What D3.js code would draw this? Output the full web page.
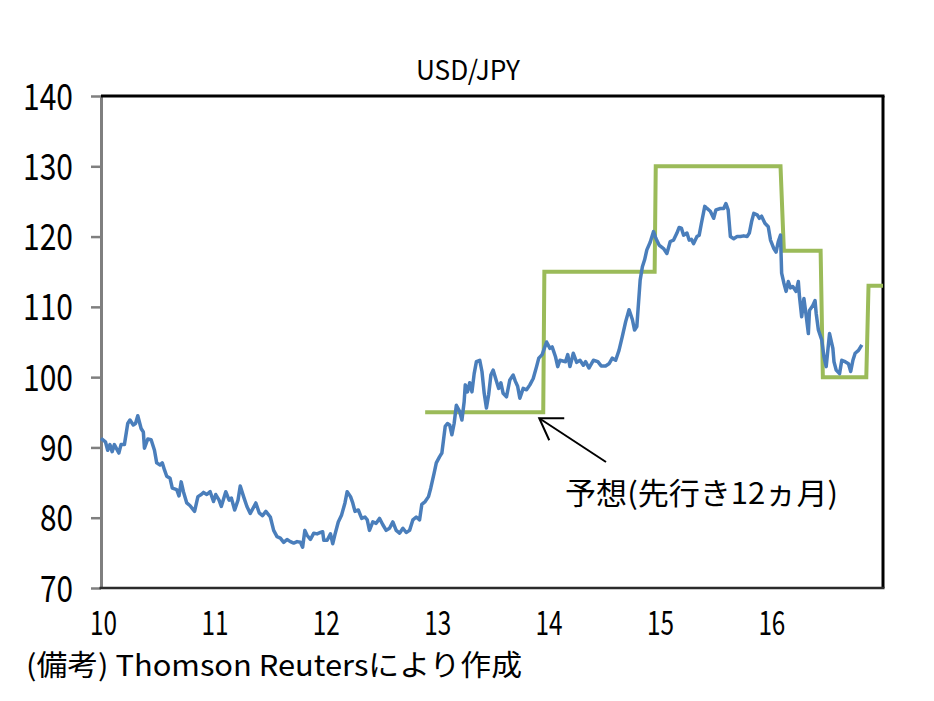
<!DOCTYPE html>
<html><head><meta charset="utf-8">
<script src="https://cdn.jsdelivr.net/npm/d3@7"></script>
<style>
html,body{margin:0;padding:0;background:#fff;}
svg{display:block;}
text{font-family:"Noto Sans CJK JP","Noto Sans",sans-serif;fill:#000;}
</style></head>
<body>
<div id="chart"></div>
<script>
// ---- data ----
const title = "USD/JPY";
const yTicks = [70, 80, 90, 100, 110, 120, 130, 140];
const xTickYears = [10, 11, 12, 13, 14, 15, 16];
const xTickLabels = ["10", "11", "12", "13", "14", "15", "16"];
const annotationText = "予想(先行き12ヵ月)";
const sourceText = "(備考) Thomson Reutersにより作成";

// actual USD/JPY (x = year, 10 = 2010)
const actualYears = [10.00,10.04,10.06,10.08,10.10,10.12,10.16,10.18,10.21,10.24,10.26,10.29,10.31,10.33,10.36,10.38,10.39,10.42,10.45,10.48,10.50,10.53,10.55,10.57,10.59,10.62,10.64,10.68,10.70,10.72,10.74,10.77,10.80,10.84,10.87,10.90,10.92,10.95,10.98,11.01,11.03,11.06,11.08,11.12,11.15,11.17,11.20,11.23,11.25,11.28,11.31,11.34,11.39,11.42,11.45,11.48,11.52,11.55,11.58,11.61,11.64,11.67,11.70,11.73,11.76,11.79,11.81,11.83,11.85,11.88,11.91,11.94,11.97,11.99,12.00,12.03,12.06,12.08,12.10,12.13,12.16,12.19,12.21,12.24,12.26,12.28,12.31,12.34,12.37,12.39,12.41,12.44,12.47,12.50,12.53,12.56,12.59,12.62,12.65,12.68,12.71,12.74,12.77,12.80,12.83,12.86,12.88,12.91,12.94,12.96,12.99,13.01,13.04,13.06,13.09,13.11,13.13,13.15,13.17,13.19,13.22,13.24,13.26,13.27,13.29,13.31,13.33,13.35,13.37,13.40,13.42,13.44,13.46,13.48,13.50,13.52,13.55,13.57,13.59,13.61,13.64,13.67,13.70,13.72,13.74,13.76,13.79,13.82,13.85,13.88,13.91,13.93,13.96,14.00,14.03,14.05,14.08,14.10,14.12,14.17,14.19,14.21,14.24,14.27,14.30,14.33,14.35,14.38,14.42,14.46,14.49,14.53,14.56,14.59,14.62,14.65,14.68,14.71,14.74,14.77,14.79,14.81,14.84,14.86,14.88,14.90,14.93,14.96,14.98,15.01,15.05,15.08,15.11,15.14,15.17,15.19,15.21,15.23,15.26,15.28,15.30,15.32,15.35,15.37,15.39,15.42,15.44,15.47,15.50,15.52,15.56,15.59,15.61,15.63,15.65,15.68,15.71,15.74,15.77,15.80,15.82,15.84,15.86,15.89,15.91,15.93,15.96,15.99,16.01,16.04,16.06,16.08,16.10,16.11,16.13,16.15,16.17,16.19,16.21,16.24,16.26,16.27,16.29,16.31,16.33,16.35,16.36,16.39,16.41,16.42,16.44,16.47,16.49,16.51,16.54,16.57,16.58,16.60,16.63,16.65,16.68,16.71,16.73,16.75,16.77,16.80,16.83];
const actualValues = [91.3,90.8,89.6,90.4,89.4,90.4,89.2,90.4,90.4,93.4,93.9,93.2,93.4,94.5,92.7,92.2,89.9,91.2,91.1,89.6,87.8,87.5,87.8,86.8,85.9,85.6,84.2,84.0,83.1,85.1,83.7,82.1,81.7,80.9,83.0,83.3,83.6,83.3,83.7,82.3,83.3,82.5,81.6,83.7,82.5,82.8,81.1,82.5,84.5,83.0,81.6,80.6,82.1,80.7,80.3,80.9,80.1,78.2,77.3,77.1,76.5,76.9,76.6,76.4,76.6,76.5,75.8,78.2,77.5,76.9,77.8,77.7,77.9,78.0,76.8,76.8,77.7,76.3,77.6,79.4,80.4,82.1,83.7,83.0,82.1,80.9,81.1,79.9,80.1,79.7,78.2,79.4,79.2,79.9,79.0,78.2,78.5,79.4,78.2,77.8,78.5,77.9,78.2,79.7,80.1,79.7,81.9,82.3,83.0,84.2,86.3,87.8,88.7,89.2,93.0,93.4,93.2,91.8,93.4,96.0,95.1,93.9,96.5,98.9,97.9,99.2,97.9,100.5,102.2,102.4,100.8,97.7,95.6,97.5,100.3,101.0,99.4,98.4,99.2,97.7,97.2,99.6,100.3,99.4,98.7,97.0,98.4,98.2,98.9,99.8,101.5,102.7,103.2,105.0,104.1,104.3,102.9,101.5,102.4,102.2,103.2,101.5,103.4,102.1,102.4,101.7,102.2,101.3,102.4,102.2,101.6,101.6,101.9,102.7,102.4,103.8,105.8,107.9,109.6,108.2,106.7,107.2,113.8,115.7,116.7,118.1,119.2,120.7,119.8,118.8,118.3,117.6,119.3,119.5,120.5,121.3,121.2,120.2,120.5,119.5,119.6,119.0,120.0,120.2,121.9,124.3,124.0,123.6,122.6,123.8,124.0,124.0,124.7,123.8,120.0,119.7,120.0,120.0,120.1,120.0,120.5,122.1,123.3,123.1,122.6,122.9,121.9,121.4,119.5,118.3,117.8,119.3,120.2,114.8,113.4,112.2,113.6,112.7,112.9,112.2,113.6,111.5,108.6,111.2,108.8,106.2,109.5,110.2,110.9,109.1,106.7,105.3,102.9,101.5,106.2,104.1,102.2,101.0,100.5,102.4,102.2,101.9,100.8,102.4,103.4,103.8,104.6];

// forecast (12 months ahead), step line
const forecastYears  = [12.91, 13.97, 13.98, 14.97, 14.98, 16.10, 16.13, 16.46, 16.48, 16.87, 16.89, 17.02];
const forecastValues = [95, 95, 115, 115, 130, 130, 118, 118, 100, 100, 113, 113];

// ---- chart ----
const W = 934, H = 701;
const plotL = 101, plotR = 883, plotT = 96, plotB = 588;
const svg = d3.select("#chart").append("svg").attr("width", W).attr("height", H);

const x = d3.scaleLinear().domain([10, 17.02]).range([plotL, plotR]);
const y = d3.scaleLinear().domain([70, 140]).range([plotB, plotT]);

// title
svg.append("text").attr("x", 468).attr("y", 80).attr("text-anchor", "middle")
  .attr("font-size", 27).attr("textLength", 104).attr("lengthAdjust", "spacingAndGlyphs")
  .text(title);

// y axis
const yAxis = svg.append("g").attr("transform", `translate(${plotL},0)`)
  .call(d3.axisLeft(y).tickValues(yTicks).tickSize(10).tickPadding(18).tickSizeOuter(0));
yAxis.select(".domain").attr("stroke", "#7f7f7f").attr("stroke-width", 3);
yAxis.selectAll(".tick line").attr("stroke", "#7f7f7f").attr("stroke-width", 2.5);
yAxis.selectAll(".tick text")
  .attr("font-family", '"Noto Sans CJK JP","Noto Sans",sans-serif')
  .attr("font-size", 37).attr("fill", "#000")
  .attr("dy", null).attr("y", 13)
  .attr("textLength", d => d >= 100 ? 50 : 33).attr("lengthAdjust", "spacingAndGlyphs");

// x axis (labels only)
const xAxis = svg.append("g").attr("transform", `translate(0,${plotB})`)
  .call(d3.axisBottom(x).tickValues(xTickYears).tickFormat((d, i) => xTickLabels[i]).tickSize(0).tickSizeOuter(0));
xAxis.select(".domain").remove();
xAxis.selectAll(".tick text")
  .attr("font-family", '"Noto Sans CJK JP","Noto Sans",sans-serif')
  .attr("font-size", 33).attr("fill", "#000")
  .attr("dy", null).attr("y", 47).attr("x", 2)
  .attr("textLength", 27).attr("lengthAdjust", "spacingAndGlyphs");

// frame: top, right, bottom
svg.append("line").attr("x1", plotL).attr("x2", plotR + 1.5).attr("y1", plotT).attr("y2", plotT)
  .attr("stroke", "#000").attr("stroke-width", 3);
svg.append("line").attr("x1", plotR).attr("x2", plotR).attr("y1", plotT).attr("y2", plotB)
  .attr("stroke", "#000").attr("stroke-width", 3);
svg.append("line").attr("x1", plotL - 1.5).attr("x2", plotR + 1.5).attr("y1", plotB).attr("y2", plotB)
  .attr("stroke", "#2b2b2b").attr("stroke-width", 2.5);

// lines
const actual = actualYears.map((d, i) => [d, actualValues[i]]);
const forecast = forecastYears.map((d, i) => [d, forecastValues[i]]);
const line = d3.line().x(d => x(d[0])).y(d => y(d[1]));

svg.append("path").datum(forecast).attr("d", line)
  .attr("fill", "none").attr("stroke", "#9bbb59").attr("stroke-width", 4)
  .attr("stroke-linejoin", "miter");
svg.append("path").datum(actual).attr("d", line)
  .attr("fill", "none").attr("stroke", "#4a7ebb").attr("stroke-width", 3.5)
  .attr("stroke-linejoin", "round");

// annotation arrow
const tip = [x(13.97) - 4, y(95) + 6];
const tail = [606, 462];
const g = svg.append("g").attr("stroke", "#000").attr("stroke-width", 2).attr("fill", "none");
g.append("line").attr("x1", tail[0]).attr("y1", tail[1]).attr("x2", tip[0]).attr("y2", tip[1]);
g.append("path").attr("d", `M${tip[0] + 25},${tip[1]} L${tip[0]},${tip[1]} L${tip[0] + 10},${tip[1] + 22}`);

svg.append("text").attr("x", 565).attr("y", 504)
  .attr("font-size", 30).attr("textLength", 273).attr("lengthAdjust", "spacingAndGlyphs")
  .text(annotationText);

// source
svg.append("text").attr("x", 26).attr("y", 676)
  .attr("font-size", 29).attr("textLength", 496).attr("lengthAdjust", "spacingAndGlyphs")
  .text(sourceText);
</script>
</body></html>
